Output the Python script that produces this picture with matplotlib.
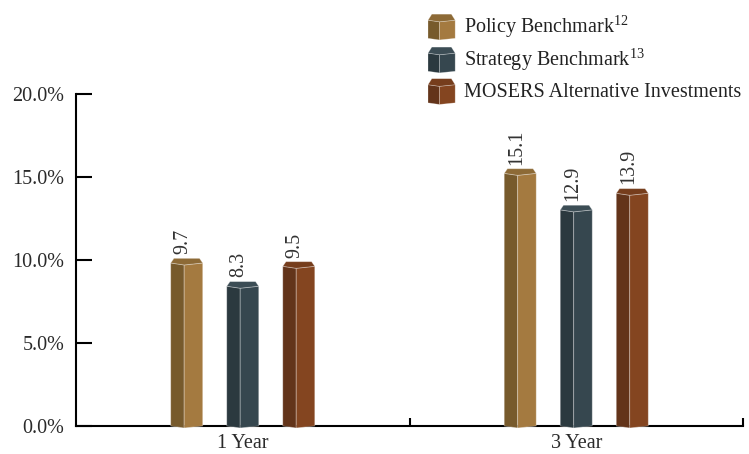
import matplotlib
matplotlib.use("Agg")
import matplotlib.pyplot as plt
from matplotlib.patches import Polygon, Patch
from matplotlib.legend_handler import HandlerBase

plt.rcParams['font.family'] = ['Liberation Serif', 'DejaVu Serif']
plt.rcParams['mathtext.fontset'] = 'custom'
plt.rcParams['mathtext.rm'] = 'Liberation Serif'

# ---- data ----
periods = ["1 Year", "3 Year"]
series_names = ["Policy Benchmark$^{12}$", "Strategy Benchmark$^{13}$",
                "MOSERS Alternative Investments"]
policy = [9.7, 15.1]
strategy = [8.3, 12.9]
mosers = [9.5, 13.9]
y_ticks = [0, 5, 10, 15, 20]

# (left face, right face, cap) for each series
palette = [
    ("#775a2c", "#a47a40", "#8d6a36"),
    ("#2b393f", "#36474f", "#3c4d55"),
    ("#63341a", "#844520", "#763d1c"),
]
series = [policy, strategy, mosers]

EDGE = (1, 1, 1, 0.35)


def prism(ax, xc, w, top, colors):
    """Hexagonal column seen slightly from above, drawn in data units."""
    left_c, right_c, cap_c = colors
    x0, x1 = xc - w / 2, xc + w / 2
    xs = x0 + 0.42 * w
    dip, rise, inset = 0.12, 0.28, 0.1 * w
    kw = dict(edgecolor=EDGE, linewidth=0.6, zorder=3, clip_on=False)
    ax.add_patch(Polygon([(x0, 0), (xs, -dip), (xs, top), (x0, top + dip)],
                         facecolor=left_c, **kw))
    ax.add_patch(Polygon([(xs, -dip), (x1, 0), (x1, top + dip), (xs, top)],
                         facecolor=right_c, **kw))
    ax.add_patch(Polygon([(x0, top + dip), (xs, top), (x1, top + dip),
                          (x1 - inset, top + dip + rise),
                          (x0 + inset, top + dip + rise)],
                         facecolor=cap_c, **kw))
    return top + dip + rise


class PrismHandler(HandlerBase):
    def __init__(self, colors):
        super().__init__()
        self.colors = colors

    def create_artists(self, legend, orig_handle, xdescent, ydescent,
                       width, height, fontsize, trans):
        left_c, right_c, cap_c = self.colors
        x0, y0 = -xdescent, -ydescent - height * 0.1
        x1 = x0 + width
        xs = x0 + 0.42 * width
        top = y0 + height * 0.78
        dip, rise, inset = height * 0.07, height * 0.26, width * 0.14
        kw = dict(edgecolor=EDGE, linewidth=0.5, transform=trans)
        arts = [
            Polygon([(x0, y0 + dip), (xs, y0), (xs, top), (x0, top + dip)],
                    facecolor=left_c, **kw),
            Polygon([(xs, y0), (x1, y0 + dip), (x1, top + dip), (xs, top)],
                    facecolor=right_c, **kw),
            Polygon([(x0, top + dip), (xs, top), (x1, top + dip),
                     (x1 - inset, top + dip + rise),
                     (x0 + inset, top + dip + rise)],
                    facecolor=cap_c, **kw),
        ]
        return arts


fig = plt.figure(figsize=(7.49, 4.54), dpi=100)
ax = fig.add_axes([76 / 749, 1 - 426 / 454, (743 - 76) / 749, 332 / 454])
ax.set_xlim(0, 2)
ax.set_ylim(0, 20)

bar_w = 0.096
step = 0.168
for i, (vals, cols) in enumerate(zip(series, palette)):
    for j, v in enumerate(vals):
        xc = j + 0.5 + (i - 1) * step
        cap_top = prism(ax, xc, bar_w, v, cols)
        ax.text(xc - 0.012, cap_top + 0.25, f"{v:.1f}", rotation=90,
                ha='center', va='bottom', fontsize=14.5, color='#333333')

for side in ('top', 'right'):
    ax.spines[side].set_visible(False)
for side in ('left', 'bottom'):
    ax.spines[side].set_linewidth(1.5)
    ax.spines[side].set_color('black')
    ax.spines[side].set_zorder(2)

ax.set_yticks(y_ticks)
ax.set_yticklabels([f"{t:.1f}%" for t in y_ticks])
ax.tick_params(axis='y', direction='in', length=11.5, width=1.5,
               labelsize=14.5, pad=8.5, colors='black', labelcolor='#2a2a2a')

ax.set_xticks([1, 2])
ax.set_xticklabels([])
ax.set_xticks([0.5, 1.5], minor=True)
ax.set_xticklabels(periods, minor=True)
ax.tick_params(axis='x', which='major', direction='in', length=6, width=1.5)
ax.tick_params(axis='x', which='minor', length=0, labelsize=14.5, pad=5.5,
               labelcolor='#2a2a2a')

handles = [Patch() for _ in series]
fig.legend(handles, series_names,
           handler_map={h: PrismHandler(c) for h, c in zip(handles, palette)},
           loc='upper left', bbox_to_anchor=(428 / 749, 1 - 13 / 454),
           frameon=False, fontsize=14.5, handlelength=1.35, handleheight=1.4,
           handletextpad=0.45, labelspacing=0.3, borderpad=0,
           borderaxespad=0, labelcolor='#222222')

fig.savefig("out.png", dpi=100)
